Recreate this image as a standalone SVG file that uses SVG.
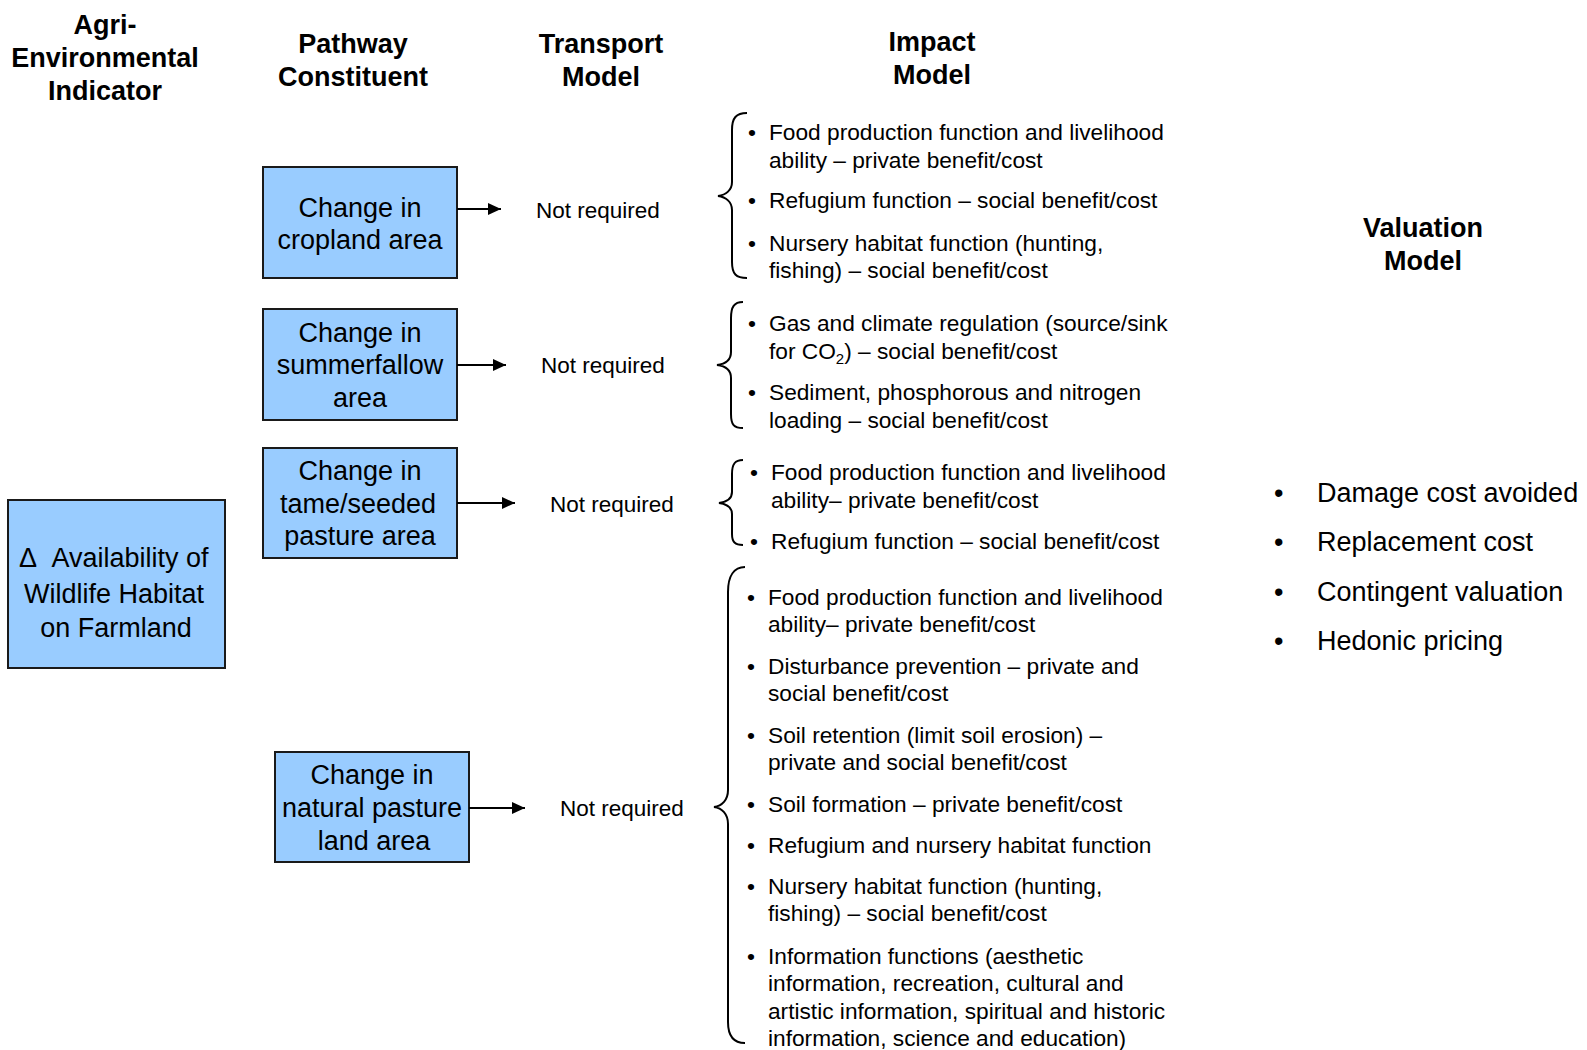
<svg xmlns="http://www.w3.org/2000/svg" width="1587" height="1050" viewBox="0 0 1587 1050">
  <style>
    text { font-family: "Liberation Sans", Arial, sans-serif; fill: #000; }
    .hdr { font-size: 27px; font-weight: bold; text-anchor: middle; }
    .box { fill: #99CCFF; stroke: #1a1a1a; stroke-width: 2; }
    .lbl { font-size: 27px; text-anchor: middle; }
    .nr { font-size: 22.5px; }
    .imp { font-size: 22.7px; }
    .val { font-size: 27px; }
    .brace { fill: none; stroke: #000; stroke-width: 2; }
    .conn { stroke: #000; stroke-width: 2; fill: none; }
  </style>
  <defs>
    <marker id="arrow" markerUnits="userSpaceOnUse" markerWidth="13" markerHeight="12" refX="13" refY="6" orient="auto">
      <path d="M0,0 L13,6 L0,12 Z" fill="#000"/>
    </marker>
  </defs>
  <rect width="1587" height="1050" fill="#fff"/>

  <!-- column headings -->
  <g id="headings">
    <text class="hdr" x="105" y="34">Agri-</text>
    <text class="hdr" x="105" y="67">Environmental</text>
    <text class="hdr" x="105" y="100">Indicator</text>
    <text class="hdr" x="353" y="53">Pathway</text>
    <text class="hdr" x="353" y="86">Constituent</text>
    <text class="hdr" x="601" y="53">Transport</text>
    <text class="hdr" x="601" y="86">Model</text>
    <text class="hdr" x="932" y="51">Impact</text>
    <text class="hdr" x="932" y="84">Model</text>
    <text class="hdr" x="1423" y="237">Valuation</text>
    <text class="hdr" x="1423" y="270">Model</text>
  </g>

  <!-- indicator -->
  <g id="indicator">
    <rect class="box" x="8" y="500" width="217" height="168"/>
    <text class="lbl" x="28" y="567">Δ</text>
    <text class="lbl" x="130" y="567">Availability of</text>
    <text class="lbl" x="114" y="603">Wildlife Habitat</text>
    <text class="lbl" x="116" y="637">on Farmland</text>
  </g>

  <!-- pathway constituents -->
  <g id="cropland">
    <rect class="box" x="263" y="167" width="194" height="111"/>
    <text class="lbl" x="360" y="217">Change in</text>
    <text class="lbl" x="360" y="249">cropland area</text>
  </g>
  <g id="summerfallow">
    <rect class="box" x="263" y="309" width="194" height="111"/>
    <text class="lbl" x="360" y="342">Change in</text>
    <text class="lbl" x="360" y="374">summerfallow</text>
    <text class="lbl" x="360" y="407">area</text>
  </g>
  <g id="tame-pasture">
    <rect class="box" x="263" y="448" width="194" height="110"/>
    <text class="lbl" x="360" y="480">Change in</text>
    <text class="lbl" x="358" y="513">tame/seeded</text>
    <text class="lbl" x="360" y="545">pasture area</text>
  </g>
  <g id="natural-pasture">
    <rect class="box" x="275" y="752" width="194" height="110"/>
    <text class="lbl" x="372" y="784">Change in</text>
    <text class="lbl" x="372" y="817">natural pasture</text>
    <text class="lbl" x="374" y="850">land area</text>
  </g>

  <!-- transport model -->
  <g id="transport">
    <text class="nr" x="536" y="218">Not required</text>
    <text class="nr" x="541" y="373">Not required</text>
    <text class="nr" x="550" y="512">Not required</text>
    <text class="nr" x="560" y="816">Not required</text>
  </g>

  <!-- connectors -->
  <g id="connectors">
    <line class="conn" x1="457" y1="209" x2="501" y2="209" marker-end="url(#arrow)"/>
    <line class="conn" x1="457" y1="365" x2="506" y2="365" marker-end="url(#arrow)"/>
    <line class="conn" x1="457" y1="503" x2="515" y2="503" marker-end="url(#arrow)"/>
    <line class="conn" x1="469" y1="808" x2="525" y2="808" marker-end="url(#arrow)"/>
  </g>

  <!-- impact model: braces -->
  <g id="braces">
    <path class="brace" d="M747,113 C736,113 732,118 732,130 L732,182 C732,190 726,195 718,196 C726,197 732,202 732,210 L732,262 C732,274 736,278 747,278"/>
    <path class="brace" d="M743,302 C734,302 731,307 731,318 L731,352 C731,360 725,364 717,365 C725,366 731,370 731,378 L731,414 C731,425 734,428 743,428"/>
    <path class="brace" d="M743,460 C735,460 732,464 732,474 L732,492 C732,499 726,502 719,503 C726,504 732,507 732,514 L732,534 C732,542 735,545 743,545"/>
    <path class="brace" d="M745,567 C734,567 728,576 728,592 L728,790 C728,800 722,806 714,807 C722,808 728,814 728,824 L728,1022 C728,1036 734,1043 745,1043"/>
  </g>

  <!-- impact model: items -->
  <g id="impact-cropland" class="imp">
    <text x="748" y="140">•</text>
    <text x="769" y="140">Food production function and livelihood</text>
    <text x="769" y="168">ability – private benefit/cost</text>
    <text x="748" y="208">•</text>
    <text x="769" y="208">Refugium function – social benefit/cost</text>
    <text x="748" y="251">•</text>
    <text x="769" y="251">Nursery habitat function (hunting,</text>
    <text x="769" y="278">fishing) – social benefit/cost</text>
  </g>
  <g id="impact-summerfallow" class="imp">
    <text x="748" y="331">•</text>
    <text x="769" y="331">Gas and climate regulation (source/sink</text>
    <text x="769" y="359">for CO<tspan dy="5" font-size="15">2</tspan><tspan dy="-5">) – social benefit/cost</tspan></text>
    <text x="748" y="400">•</text>
    <text x="769" y="400">Sediment, phosphorous and nitrogen</text>
    <text x="769" y="428">loading – social benefit/cost</text>
  </g>
  <g id="impact-tame-pasture" class="imp">
    <text x="750" y="480">•</text>
    <text x="771" y="480">Food production function and livelihood</text>
    <text x="771" y="508">ability– private benefit/cost</text>
    <text x="750" y="549">•</text>
    <text x="771" y="549">Refugium function – social benefit/cost</text>
  </g>
  <g id="impact-natural-pasture" class="imp">
    <text x="747" y="605">•</text>
    <text x="768" y="605">Food production function and livelihood</text>
    <text x="768" y="632">ability– private benefit/cost</text>
    <text x="747" y="674">•</text>
    <text x="768" y="674">Disturbance prevention – private and</text>
    <text x="768" y="701">social benefit/cost</text>
    <text x="747" y="743">•</text>
    <text x="768" y="743">Soil retention (limit soil erosion) –</text>
    <text x="768" y="770">private and social benefit/cost</text>
    <text x="747" y="812">•</text>
    <text x="768" y="812">Soil formation – private benefit/cost</text>
    <text x="747" y="853">•</text>
    <text x="768" y="853">Refugium and nursery habitat function</text>
    <text x="747" y="894">•</text>
    <text x="768" y="894">Nursery habitat function (hunting,</text>
    <text x="768" y="921">fishing) – social benefit/cost</text>
    <text x="747" y="964">•</text>
    <text x="768" y="964">Information functions (aesthetic</text>
    <text x="768" y="991">information, recreation, cultural and</text>
    <text x="768" y="1019">artistic information, spiritual and historic</text>
    <text x="768" y="1046">information, science and education)</text>
  </g>

  <!-- valuation methods -->
  <g id="valuation" class="val">
    <text x="1274" y="502">•</text>
    <text x="1317" y="502">Damage cost avoided</text>
    <text x="1274" y="551">•</text>
    <text x="1317" y="551">Replacement cost</text>
    <text x="1274" y="601">•</text>
    <text x="1317" y="601">Contingent valuation</text>
    <text x="1274" y="650">•</text>
    <text x="1317" y="650">Hedonic pricing</text>
  </g>
</svg>
